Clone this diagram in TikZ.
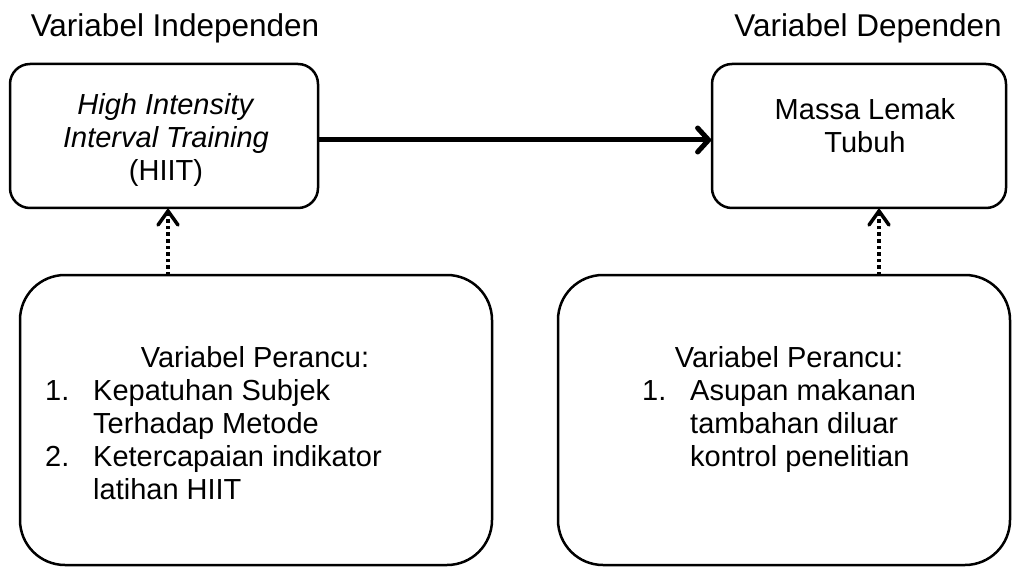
\documentclass[tikz,border=0pt]{standalone}
\usepackage{fontspec}
\setmainfont{Liberation Sans}
\usetikzlibrary{arrows.meta}
\begin{document}
\begin{tikzpicture}[x=1pt,y=-1pt,
    varbox/.style={draw, line width=2.5pt, rounded corners=20pt, inner sep=0pt, outer sep=0pt},
    bigbox/.style={varbox, rounded corners=45pt},
    txt/.style={inner sep=0pt, anchor=base, font=\fontsize{29}{33}\selectfont},
    heading/.style={txt, font=\fontsize{31.5}{36}\selectfont},
    mainarrow/.style={line width=5pt, -{Straight Barb[length=11pt,width=24pt,line cap=round]}},
    dotarrow/.style={line width=3.5pt, dash pattern=on 3.5pt off 3pt, -{Straight Barb[length=14pt,width=20pt,line cap=round]}}]
  \useasboundingbox (0,0) rectangle (1013,567);

  % headings
  \node[heading] (indep) at (175,37) {Variabel Independen};
  \node[heading] (dep) at (868,37) {Variabel Dependen};

  % top boxes
  \node[varbox, minimum width=308pt, minimum height=144pt] (hiit) at (164,136) {};
  \node[txt] (hiittext) at (166,115) {\begin{tabular}[t]{@{}c@{}}\textit{High Intensity}\\ \textit{Interval Training}\\ (HIIT)\end{tabular}};
  \node[varbox, minimum width=294pt, minimum height=144pt] (fat) at (859,136) {};
  \node[txt] (fattext) at (865,120) {\begin{tabular}[t]{@{}c@{}}Massa Lemak\\ Tubuh\end{tabular}};

  % bottom boxes
  \node[bigbox, minimum width=472pt, minimum height=290pt] (conf1) at (256,420) {};
  \node[txt] (conf1title) at (255,367) {Variabel Perancu:};
  \node[txt, anchor=base west] (conf1list) at (45,400) {\begin{tabular}[t]{@{}p{48pt}@{}l@{}}1. & Kepatuhan Subjek\\ & Terhadap Metode\\ 2. & Ketercapaian indikator\\ & latihan HIIT\end{tabular}};
  \node[bigbox, minimum width=452pt, minimum height=290pt] (conf2) at (784,420) {};
  \node[txt] (conf2title) at (789,367) {Variabel Perancu:};
  \node[txt, anchor=base west] (conf2list) at (642,400) {\begin{tabular}[t]{@{}p{48pt}@{}l@{}}1. & Asupan makanan\\ & tambahan diluar\\ & kontrol penelitian\end{tabular}};

  % arrows
  \draw[mainarrow] ([yshift=-4pt]hiit.east) -- ([yshift=-4pt]fat.west);
  \draw[dotarrow] ([xshift=4pt]hiit.south |- conf1.north) -- ([xshift=4pt]hiit.south);
  \draw[dotarrow] ([xshift=20pt]fat.south |- conf2.north) -- ([xshift=20pt]fat.south);
\end{tikzpicture}
\end{document}
